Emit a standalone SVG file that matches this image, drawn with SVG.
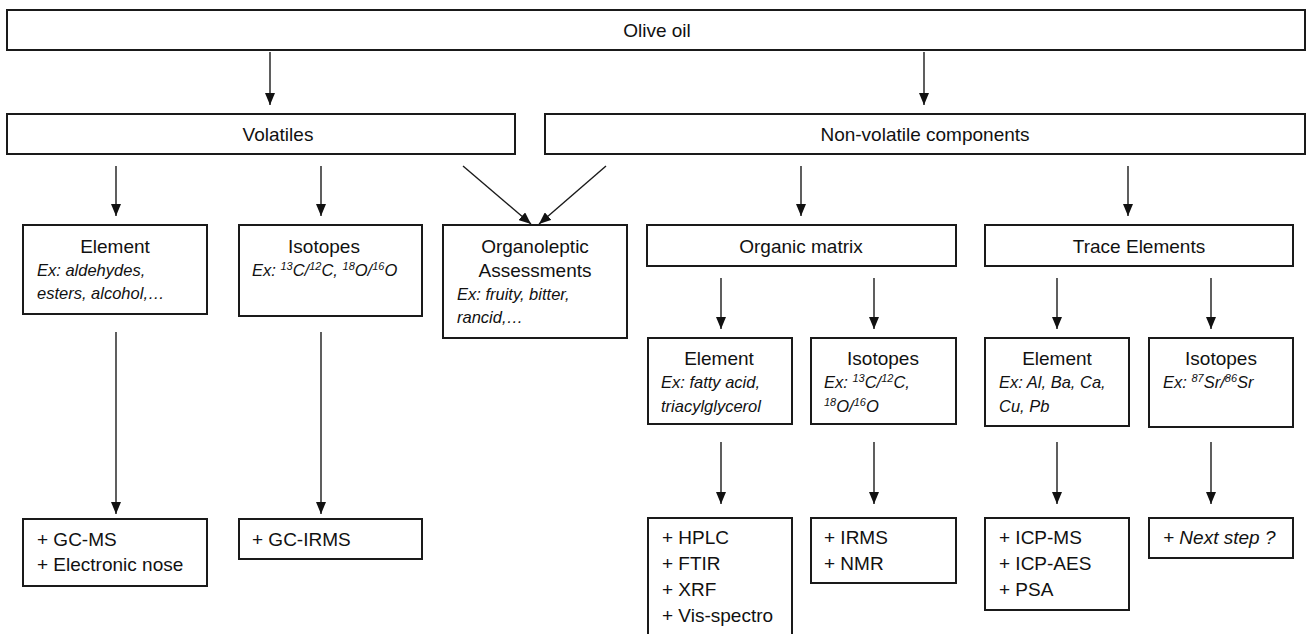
<svg xmlns="http://www.w3.org/2000/svg" width="1309" height="634" viewBox="0 0 1309 634">
<style>
.box{fill:#fff;stroke:#1a1a1a;stroke-width:2}
.t{font-family:"Liberation Sans",Arial,sans-serif;font-size:19px;fill:#111}
.c{text-anchor:middle}
.i{font-family:"Liberation Sans",Arial,sans-serif;font-size:16.5px;font-style:italic;fill:#111}
.sup{font-size:11px}
.con line{stroke:#1a1a1a;stroke-width:1.4;marker-end:url(#ah)}
</style>
<defs>
<marker id="ah" viewBox="0 0 12 10" refX="12" refY="5" markerWidth="12" markerHeight="10" markerUnits="userSpaceOnUse" orient="auto">
<path d="M0,0 L12,5 L0,10 z" fill="#111"/>
</marker>
</defs>
<rect width="1309" height="634" fill="#fff"/>
<g id="olive"><rect class="box" x="7" y="10" width="1298" height="40"/><text class="t c" x="657" y="37">Olive oil</text></g>
<g id="volatiles"><rect class="box" x="7" y="114" width="508" height="40"/><text class="t c" x="278" y="141">Volatiles</text></g>
<g id="nonvolatile"><rect class="box" x="545" y="114" width="760" height="40"/><text class="t c" x="925" y="141">Non-volatile components</text></g>
<g id="vol-element"><rect class="box" x="23" y="225" width="184" height="89"/><text class="t c" x="115" y="253">Element</text><text class="i" x="37" y="276">Ex: aldehydes,</text><text class="i" x="37" y="299">esters, alcohol,…</text></g>
<g id="vol-isotopes"><rect class="box" x="239" y="225" width="183" height="91"/><text class="t c" x="324" y="253">Isotopes</text><text class="i" x="252" y="276">Ex: <tspan class="sup" baseline-shift="super">13</tspan>C/<tspan class="sup" baseline-shift="super">12</tspan>C, <tspan class="sup" baseline-shift="super">18</tspan>O/<tspan class="sup" baseline-shift="super">16</tspan>O</text></g>
<g id="organoleptic"><rect class="box" x="443" y="225" width="184" height="113"/><text class="t c" x="535" y="253">Organoleptic</text><text class="t c" x="535" y="277">Assessments</text><text class="i" x="457" y="300">Ex: fruity, bitter,</text><text class="i" x="457" y="323">rancid,…</text></g>
<g id="organic"><rect class="box" x="647" y="225" width="309" height="41"/><text class="t c" x="801" y="253">Organic matrix</text></g>
<g id="trace"><rect class="box" x="985" y="225" width="308" height="41"/><text class="t c" x="1139" y="253">Trace Elements</text></g>
<g id="org-element"><rect class="box" x="648" y="338" width="144" height="86"/><text class="t c" x="719" y="365">Element</text><text class="i" x="661" y="388">Ex: fatty acid,</text><text class="i" x="661" y="411.5">triacylglycerol</text></g>
<g id="org-isotopes"><rect class="box" x="811" y="338" width="145" height="86"/><text class="t c" x="883" y="365">Isotopes</text><text class="i" x="824" y="388">Ex: <tspan class="sup" baseline-shift="super">13</tspan>C/<tspan class="sup" baseline-shift="super">12</tspan>C,</text><text class="i" x="824" y="411.5"><tspan class="sup" baseline-shift="super">18</tspan>O/<tspan class="sup" baseline-shift="super">16</tspan>O</text></g>
<g id="tr-element"><rect class="box" x="985" y="338" width="144" height="88"/><text class="t c" x="1057" y="365">Element</text><text class="i" x="999" y="388">Ex: Al, Ba, Ca,</text><text class="i" x="999" y="411.5">Cu, Pb</text></g>
<g id="tr-isotopes"><rect class="box" x="1149" y="338" width="144" height="89"/><text class="t c" x="1221" y="365">Isotopes</text><text class="i" x="1163" y="388">Ex: <tspan class="sup" baseline-shift="super">87</tspan>Sr/<tspan class="sup" baseline-shift="super">86</tspan>Sr</text></g>
<g id="gcms"><rect class="box" x="23" y="519" width="184" height="67"/><text class="t" x="37" y="546">+ GC-MS</text><text class="t" x="37" y="571">+ Electronic nose</text></g>
<g id="gcirms"><rect class="box" x="239" y="519" width="183" height="40"/><text class="t" x="252" y="546">+ GC-IRMS</text></g>
<g id="hplc"><rect class="box" x="648" y="518" width="144" height="130"/><text class="t" x="662" y="544">+ HPLC</text><text class="t" x="662" y="570">+ FTIR</text><text class="t" x="662" y="596">+ XRF</text><text class="t" x="662" y="622">+ Vis-spectro</text></g>
<g id="irms"><rect class="box" x="811" y="518" width="145" height="65"/><text class="t" x="824" y="544">+ IRMS</text><text class="t" x="824" y="570">+ NMR</text></g>
<g id="icp"><rect class="box" x="985" y="518" width="144" height="92"/><text class="t" x="999" y="544">+ ICP-MS</text><text class="t" x="999" y="570">+ ICP-AES</text><text class="t" x="999" y="596">+ PSA</text></g>
<g id="nextstep"><rect class="box" x="1149" y="518" width="144" height="40"/><text class="i" style="font-size:19px" x="1163" y="544">+ Next step ?</text></g>
<g id="connectors" class="con">
<line x1="270" y1="52" x2="270" y2="105"/>
<line x1="924" y1="52" x2="924" y2="105"/>
<line x1="116" y1="166" x2="116" y2="216"/>
<line x1="321" y1="166" x2="321" y2="216"/>
<line x1="463" y1="166" x2="531" y2="224"/>
<line x1="606" y1="166" x2="539" y2="224"/>
<line x1="801" y1="166" x2="801" y2="216"/>
<line x1="1128" y1="166" x2="1128" y2="216"/>
<line x1="721" y1="278" x2="721" y2="329"/>
<line x1="874" y1="278" x2="874" y2="329"/>
<line x1="1057" y1="278" x2="1057" y2="329"/>
<line x1="1211" y1="278" x2="1211" y2="329"/>
<line x1="721" y1="442" x2="721" y2="504"/>
<line x1="874" y1="442" x2="874" y2="504"/>
<line x1="1057" y1="442" x2="1057" y2="504"/>
<line x1="1211" y1="442" x2="1211" y2="504"/>
<line x1="116" y1="332" x2="116" y2="514"/>
<line x1="321" y1="332" x2="321" y2="514"/>
</g>
</svg>
